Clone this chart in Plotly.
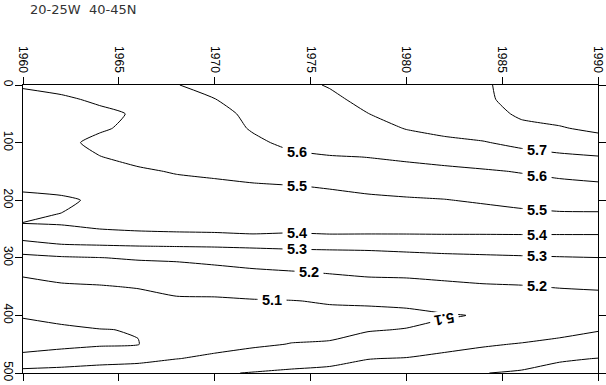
import numpy as np
import plotly.graph_objects as go

years = [1960, 1962, 1964, 1966, 1968, 1970, 1972, 1974, 1976, 1978, 1980, 1982, 1984, 1986, 1988, 1990]
depths = [0, 25, 50, 75, 100, 125, 150, 175, 200, 225, 240, 260, 280, 300, 325, 350, 375, 400, 425, 450, 475, 500]

# profiles (value at each depth), one list per year
p1960 = [5.51, 5.47, 5.46, 5.455, 5.45, 5.445, 5.435, 5.415, 5.38, 5.39, 5.401, 5.33, 5.27, 5.17, 5.11, 5.08, 5.05, 5.01, 4.96, 4.96, 5.03, 5.13]
p1962 = [5.53, 5.485, 5.47, 5.47, 5.48, 5.47, 5.45, 5.43, 5.385, 5.402, 5.405, 5.37, 5.285, 5.19, 5.13, 5.09, 5.05, 5.025, 4.985, 4.98, 5.04, 5.14]
p1964 = [5.56, 5.515, 5.48, 5.49, 5.52, 5.498, 5.47, 5.445, 5.415, 5.41, 5.405, 5.395, 5.29, 5.198, 5.14, 5.095, 5.06, 5.03, 4.998, 4.99, 5.06, 5.15]
p1966 = [5.58, 5.55, 5.51, 5.52, 5.53, 5.52, 5.49, 5.46, 5.44, 5.42, 5.41, 5.395, 5.298, 5.21, 5.15, 5.105, 5.07, 5.04, 5.003, 4.998, 5.07, 5.16]
p1968 = [5.597, 5.57, 5.55, 5.545, 5.54, 5.53, 5.505, 5.48, 5.455, 5.43, 5.415, 5.395, 5.302, 5.215, 5.16, 5.12, 5.09, 5.06, 5.04, 5.03, 5.098, 5.17]
p1970 = [5.63, 5.598, 5.58, 5.575, 5.57, 5.56, 5.515, 5.485, 5.465, 5.44, 5.42, 5.395, 5.305, 5.23, 5.17, 5.125, 5.09, 5.07, 5.06, 5.075, 5.115, 5.19]
p1972 = [5.66, 5.64, 5.615, 5.605, 5.59, 5.565, 5.54, 5.49, 5.47, 5.445, 5.425, 5.398, 5.31, 5.245, 5.185, 5.135, 5.095, 5.08, 5.075, 5.09, 5.13, 5.205]
p1974 = [5.68, 5.665, 5.65, 5.635, 5.612, 5.59, 5.55, 5.498, 5.475, 5.45, 5.425, 5.395, 5.315, 5.255, 5.195, 5.14, 5.098, 5.085, 5.08, 5.102, 5.16, 5.215]
p1976 = [5.705, 5.685, 5.67, 5.655, 5.64, 5.595, 5.565, 5.506, 5.48, 5.455, 5.432, 5.398, 5.318, 5.26, 5.205, 5.16, 5.105, 5.085, 5.085, 5.105, 5.17, 5.225]
p1978 = [5.74, 5.72, 5.699, 5.675, 5.645, 5.601, 5.575, 5.52, 5.485, 5.46, 5.44, 5.397, 5.32, 5.265, 5.215, 5.17, 5.108, 5.085, 5.097, 5.12, 5.198, 5.235]
p1980 = [5.77, 5.75, 5.73, 5.703, 5.67, 5.61, 5.58, 5.535, 5.49, 5.465, 5.445, 5.397, 5.33, 5.27, 5.22, 5.17, 5.115, 5.085, 5.102, 5.135, 5.205, 5.245]
p1982 = [5.79, 5.77, 5.75, 5.72, 5.685, 5.63, 5.58, 5.54, 5.497, 5.47, 5.45, 5.398, 5.335, 5.28, 5.23, 5.18, 5.13, 5.095, 5.115, 5.16, 5.23, 5.27]
p1984 = [5.79, 5.79, 5.775, 5.74, 5.695, 5.65, 5.59, 5.55, 5.51, 5.47, 5.452, 5.398, 5.34, 5.285, 5.24, 5.19, 5.14, 5.104, 5.13, 5.19, 5.24, 5.298]
p1986 = [5.83, 5.82, 5.81, 5.785, 5.72, 5.67, 5.605, 5.565, 5.52, 5.485, 5.455, 5.399, 5.345, 5.29, 5.245, 5.195, 5.15, 5.125, 5.15, 5.205, 5.26, 5.31]
p1988 = [5.85, 5.84, 5.825, 5.795, 5.74, 5.685, 5.625, 5.575, 5.535, 5.49, 5.458, 5.399, 5.348, 5.295, 5.25, 5.205, 5.16, 5.14, 5.175, 5.22, 5.29, 5.33]
p1990 = [5.87, 5.86, 5.84, 5.815, 5.77, 5.695, 5.64, 5.585, 5.54, 5.49, 5.46, 5.399, 5.35, 5.299, 5.255, 5.21, 5.17, 5.165, 5.195, 5.24, 5.302, 5.34]

profiles = [p1960, p1962, p1964, p1966, p1968, p1970, p1972, p1974, p1976, p1978, p1980, p1982, p1984, p1986, p1988, p1990]
z = np.column_stack(profiles)  # rows = depths, cols = years

contour_start, contour_end, contour_step = 5.0, 5.8, 0.1

# contour labels: level, year where the label sits, which crossing of that year's profile
label_levels = [5.6, 5.5, 5.4, 5.3, 5.2, 5.1, 5.7, 5.6, 5.5, 5.4, 5.3, 5.2, 5.1]
label_years = [1974.3, 1974.3, 1974.3, 1974.3, 1974.9, 1973.0, 1986.8, 1986.8, 1986.8, 1986.8, 1986.8, 1986.8, 1982.0]
label_branch = [0, 0, 0, 0, 0, 0, 0, 0, 0, 0, 0, 0, 1]
label_angles = [0, 0, 0, 0, 0, 0, 0, 0, 0, 0, 0, 0, 170]

title_text = "20-25W\u00a0\u00a040-45N"
x_ticks = [1960, 1965, 1970, 1975, 1980, 1985, 1990]
y_ticks = [0, 100, 200, 300, 400, 500]

FONT = "Liberation Sans, Arial, sans-serif"


def crossing_depth(level, year, which):
    col = np.array([np.interp(year, years, z[i]) for i in range(len(depths))]) - level
    hits = []
    for i in range(len(depths) - 1):
        if col[i] * col[i + 1] < 0:
            hits.append(depths[i] + (depths[i + 1] - depths[i]) * col[i] / (col[i] - col[i + 1]))
    return hits[which]


fig = go.Figure()
fig.add_trace(go.Contour(
    x=years, y=depths, z=z,
    autocontour=False,
    contours=dict(start=contour_start, end=contour_end, size=contour_step,
                  coloring="none", showlabels=False),
    line=dict(color="black", width=1, smoothing=0.5),
    showscale=False, hoverinfo="skip"))

annotations = []
for lev, yr, br, ang in zip(label_levels, label_years, label_branch, label_angles):
    annotations.append(dict(
        x=yr, y=crossing_depth(lev, yr, br), xref="x", yref="y",
        text="\u00a0" + f"{lev:.1f}" + "\u00a0", showarrow=False,
        textangle=ang, bgcolor="white", borderpad=0,
        xanchor="center", yanchor="middle",
        font=dict(family=FONT, size=14.5, color="black", weight="bold")))

axis_common = dict(ticks="outside", ticklen=7, tickcolor="black", tickwidth=1,
                   showline=True, linecolor="black", linewidth=1, mirror="ticks",
                   showgrid=False, zeroline=False, tickangle=90, automargin=False,
                   tickfont=dict(family=FONT, size=12, color="black"))

fig.update_layout(
    width=606, height=385,
    margin=dict(l=23, r=8, t=85, b=12, autoexpand=False),
    paper_bgcolor="white", plot_bgcolor="white",
    showlegend=False,
    annotations=annotations,
    title=dict(text=title_text, x=30 / 606, xref="container", xanchor="left",
               y=1 - 9 / 385, yref="container", yanchor="middle",
               font=dict(family="DejaVu Sans", size=13, color="#333")),
    xaxis=dict(range=[1960, 1990], side="top", tickmode="array", tickvals=x_ticks,
               ticktext=[str(v) for v in x_ticks], **axis_common),
    yaxis=dict(range=[500, 0], tickmode="array", tickvals=y_ticks,
               ticktext=[str(v) for v in y_ticks], ticklabelstandoff=-3, **axis_common),
)

fig.write_html("out.html", config={"displayModeBar": False},
               post_script="document.body.style.margin='0px';")
